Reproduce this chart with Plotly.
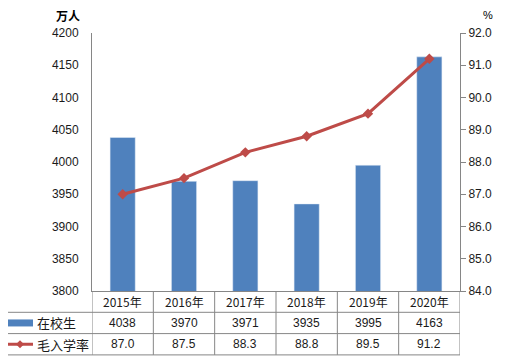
import plotly.graph_objects as go

years = ["2015年", "2016年", "2017年", "2018年", "2019年", "2020年"]
enrolled = [4038, 3970, 3971, 3935, 3995, 4163]
gross_rate = [87.0, 87.5, 88.3, 88.8, 89.5, 91.2]
series_names = ["在校生", "毛入学率"]
left_unit = "万人"
right_unit = "%"

BAR = "#4F81BD"
LINE = "#BE4B48"
GRID = "#868686"
TXT = "#1a1a1a"
FONT = "Liberation Sans, DejaVu Sans, Noto Sans CJK SC, sans-serif"
CJK = "Noto Sans CJK SC, sans-serif"

OFF = 8  # page body margin
W, H = 507 - OFF, 359 - OFF
ml, mt = 92 - OFF, 33 - OFF
mr = W - (460 - OFF)
mb = H - (291 - OFF)
ph = H - mt - mb
pw = W - ml - mr
row_h = 21.3


def py(pix):  # pixels below plot bottom -> paper y
    return -pix / ph


def px(abs_x):  # absolute page x -> paper x
    return (abs_x - OFF - ml) / pw


left_paper = px(1)

fig = go.Figure()
fig.add_trace(go.Bar(x=years, y=enrolled, name=series_names[0], marker_color=BAR,
                     width=0.41, yaxis="y"))
fig.add_trace(go.Scatter(x=years, y=gross_rate, name=series_names[1], mode="lines+markers",
                         line=dict(color=LINE, width=3),
                         marker=dict(symbol="diamond", size=8, color=LINE),
                         yaxis="y2"))

shapes = []
ann = []
n = len(years)
lc = dict(color=GRID, width=1)
for k in (1, 2, 3):
    shapes.append(dict(type="line", xref="paper", yref="paper",
                       x0=left_paper, x1=1,
                       y0=py(row_h * k), y1=py(row_h * k), line=lc))
for i in range(n + 1):
    shapes.append(dict(type="line", xref="x", yref="paper", x0=i - 0.5, x1=i - 0.5,
                       y0=0, y1=py(row_h * 3), line=lc))
shapes.append(dict(type="line", xref="paper", yref="paper", x0=left_paper, x1=left_paper,
                   y0=py(row_h), y1=py(row_h * 3), line=lc))
for i, yr in enumerate(years):
    ann.append(dict(x=yr, xref="x", y=py(row_h * 0.5), yref="paper", text=yr, showarrow=False,
                    xanchor="center", yanchor="middle",
                    font=dict(size=12, family=CJK, color=TXT)))
    ann.append(dict(x=yr, xref="x", y=py(row_h * 1.5), yref="paper", text=str(enrolled[i]),
                    showarrow=False, xanchor="center", yanchor="middle",
                    font=dict(size=12, family=FONT, color=TXT)))
    ann.append(dict(x=yr, xref="x", y=py(row_h * 2.5), yref="paper", text=f"{gross_rate[i]:.1f}",
                    showarrow=False, xanchor="center", yanchor="middle",
                    font=dict(size=12, family=FONT, color=TXT)))
# legend keys
kx0, kx1 = px(7), px(33)
shapes.append(dict(type="rect", xref="paper", yref="paper", x0=kx0, x1=kx1,
                   y0=py(row_h * 1.5 - 3.5), y1=py(row_h * 1.5 + 3.5),
                   fillcolor=BAR, line=dict(width=0)))
shapes.append(dict(type="line", xref="paper", yref="paper", x0=kx0, x1=kx1,
                   y0=py(row_h * 2.5), y1=py(row_h * 2.5), line=dict(color=LINE, width=3)))
dcx = (kx0 + kx1) / 2
dyc = py(row_h * 2.5)
dw = 4 / pw
dh = 4 / ph
shapes.append(dict(type="path", xref="paper", yref="paper",
                   path=f"M {dcx - dw} {dyc} L {dcx} {dyc + dh} L {dcx + dw} {dyc} L {dcx} {dyc - dh} Z",
                   fillcolor=LINE, line=dict(width=0)))
for j, nm in enumerate(series_names):
    ann.append(dict(x=px(35), xref="paper", y=py(row_h * (1.5 + j)), yref="paper", text=nm,
                    showarrow=False, xanchor="left", yanchor="middle",
                    font=dict(size=13, family=CJK, color=TXT)))
# units
ann.append(dict(x=px(68), xref="paper", y=1 + 17 / ph, yref="paper", text=f"<b>{left_unit}</b>",
                showarrow=False, xanchor="center", yanchor="middle", borderpad=0,
                font=dict(size=12, family=CJK, color="#000")))
ann.append(dict(x=px(488), xref="paper", y=1 + 18 / ph, yref="paper", text=right_unit,
                showarrow=False, xanchor="center", yanchor="middle", borderpad=0,
                font=dict(size=11, family=FONT, color="#000")))

fig.update_layout(
    width=W, height=H,
    margin=dict(l=ml, r=mr, t=mt, b=mb, pad=0),
    paper_bgcolor="white", plot_bgcolor="white",
    showlegend=False,
    xaxis=dict(type="category", showticklabels=False, showline=True, linecolor=GRID,
               ticks="", showgrid=False, range=[-0.5, n - 0.5], fixedrange=True),
    yaxis=dict(range=[3800, 4200], dtick=50, showline=True, linecolor=GRID, showgrid=False,
               zeroline=False, ticks="", tickfont=dict(size=12, family=FONT, color=TXT),
               ticklabelstandoff=10),
    yaxis2=dict(range=[84, 92], dtick=1, tickformat=".1f", overlaying="y", side="right",
                showline=True, linecolor=GRID, showgrid=False, zeroline=False,
                ticks="outside", ticklen=5, tickcolor=GRID,
                tickfont=dict(size=12, family=FONT, color=TXT)),
    shapes=shapes, annotations=ann,
)
fig.write_html("out.html")
